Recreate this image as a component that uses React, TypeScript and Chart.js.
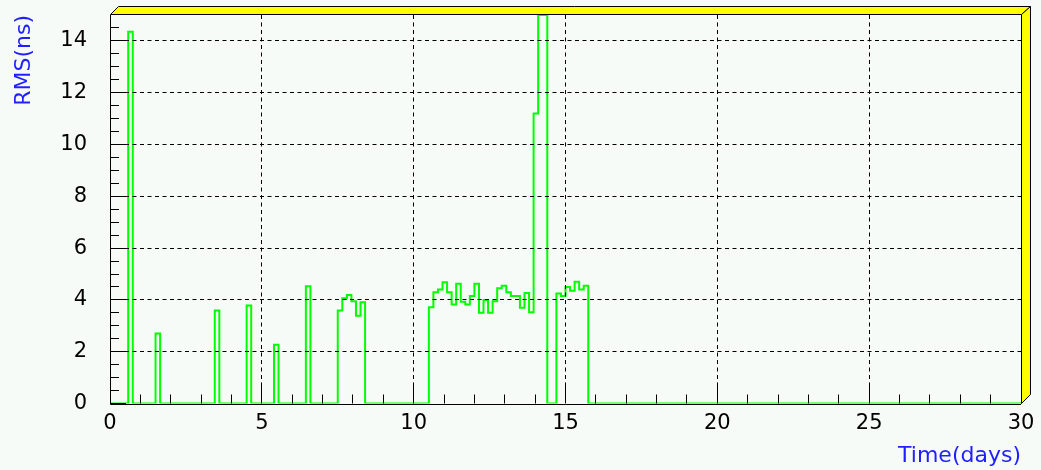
import React, { useEffect, useRef } from 'react';
import { Chart, registerables } from 'chart.js';

Chart.register(...registerables);

// ---- axis ranges & ticks ----
const X_MIN = 0;
const X_MAX = 30;
const Y_MIN = 0;
const Y_MAX = 15;
const xTickValues = [0, 5, 10, 15, 20, 25, 30];
const yTickValues = [0, 2, 4, 6, 8, 10, 12, 14];
const X_MINOR_STEP = 1;
const Y_MINOR_STEP = 0.5;

// ---- histogram data (bin width in days) ----
const BIN_WIDTH = 0.15;

// isolated single-bin spikes
const spikeStarts = [0.6, 1.5, 3.45, 4.5, 5.4, 6.45];
const spikeValues = [14.35, 2.7, 3.59, 3.78, 2.27, 4.53];

// runs of consecutive bins
const runAStart = 7.5;
const runAValues = [3.59, 4.06, 4.19, 3.95, 3.39, 3.91];

const runBStart = 10.5;
const runBValues = [
  3.72, 4.3, 4.4, 4.68, 4.3, 3.82, 4.62, 3.93, 3.82, 4.15, 4.62, 3.5, 4.0,
  3.5, 3.95, 4.45, 4.55, 4.3, 4.15, 4.15, 3.7, 4.27, 3.52, 11.2, 15, 15,
];

const runCStart = 14.7;
const runCValues = [4.25, 4.15, 4.5, 4.35, 4.7, 4.4, 4.55];

const X_TITLE = 'Time(days)';
const Y_TITLE = 'RMS(ns)';

const BG = '#f7fbf7';
const LINE_GREEN = '#00ff00';
const TITLE_BLUE = '#1f1fff';
const FRAME_YELLOW = '#ffff00';
const FONT = 'DejaVu Sans';

function buildBins(): number[] {
  const n = Math.round((X_MAX - X_MIN) / BIN_WIDTH);
  const bins = new Array(n).fill(0);
  const put = (start: number, vals: number[]) => {
    const i0 = Math.round((start - X_MIN) / BIN_WIDTH);
    vals.forEach((v, k) => {
      bins[i0 + k] = v;
    });
  };
  spikeStarts.forEach((s, i) => put(s, [spikeValues[i]]));
  put(runAStart, runAValues);
  put(runBStart, runBValues);
  put(runCStart, runCValues);
  return bins;
}

function buildOutline(bins: number[]) {
  const pts: { x: number; y: number }[] = [];
  bins.forEach((v, i) => {
    pts.push({ x: X_MIN + i * BIN_WIDTH, y: v });
    pts.push({ x: X_MIN + (i + 1) * BIN_WIDTH, y: v });
  });
  return pts;
}

const align = (p: number) => Math.round(p - 0.5) + 0.5;

const rootFramePlugin = {
  id: 'rootFrame',
  beforeDatasetsDraw(chart: any) {
    const { ctx, chartArea: a } = chart;
    ctx.save();
    ctx.strokeStyle = '#000';
    ctx.lineWidth = 1;
    ctx.beginPath();
    ctx.moveTo(align(a.left), a.top);
    ctx.lineTo(align(a.left), align(a.bottom) + 1);
    ctx.lineTo(a.right, align(a.bottom) + 1);
    ctx.stroke();
    ctx.restore();
  },
  afterDraw(chart: any) {
    const { ctx, chartArea: a, scales } = chart;
    const xs = scales.x;
    const ys = scales.y;
    ctx.save();
    ctx.strokeStyle = '#000';
    ctx.lineWidth = 1;
    // x ticks (inside frame, upward)
    for (let v = X_MIN; v <= X_MAX + 1e-9; v += X_MINOR_STEP) {
      const major = xTickValues.includes(v);
      const px = align(xs.getPixelForValue(v));
      const len = major ? 18 : 9;
      ctx.beginPath();
      ctx.moveTo(px, a.bottom);
      ctx.lineTo(px, a.bottom - len);
      ctx.stroke();
    }
    // y ticks (inside frame, rightward)
    for (let v = Y_MIN; v <= Y_MAX - 0.25; v += Y_MINOR_STEP) {
      const major = yTickValues.includes(v);
      const py = align(ys.getPixelForValue(v));
      const len = major ? 16 : 9;
      ctx.beginPath();
      ctx.moveTo(a.left, py);
      ctx.lineTo(a.left + len, py);
      ctx.stroke();
    }
    // 3D frame (top and right bands)
    const L = align(a.left);
    const T = align(a.top) - 1;
    const R = align(a.right);
    const B = align(a.bottom);
    const dx = 9;
    const dy = 8;
    ctx.fillStyle = FRAME_YELLOW;
    ctx.beginPath();
    ctx.moveTo(L, T);
    ctx.lineTo(L + dx - 1, T - dy);
    ctx.lineTo(R + dx, T - dy);
    ctx.lineTo(R, T);
    ctx.closePath();
    ctx.fill();
    ctx.stroke();
    ctx.beginPath();
    ctx.moveTo(R, T);
    ctx.lineTo(R + dx, T - dy);
    ctx.lineTo(R + dx, B - dy - 1);
    ctx.lineTo(R, B);
    ctx.closePath();
    ctx.fill();
    ctx.stroke();
    ctx.restore();
  },
};

export default function App() {
  const canvasRef = useRef<HTMLCanvasElement | null>(null);

  useEffect(() => {
    const canvas = canvasRef.current;
    if (!canvas) return;
    const bins = buildBins();
    const outline = buildOutline(bins);

    const chart = new Chart(canvas, {
      type: 'line',
      data: {
        datasets: [
          {
            data: outline,
            borderColor: LINE_GREEN,
            borderWidth: 2,
            pointRadius: 0,
            pointHoverRadius: 0,
            tension: 0,
            fill: false,
            borderJoinStyle: 'miter',
            borderCapStyle: 'butt',
          },
        ],
      },
      options: {
        animation: false,
        responsive: false,
        devicePixelRatio: 1,
        events: [],
        layout: { padding: { top: 15, right: 20, left: 0, bottom: 0 }, autoPadding: false },
        plugins: {
          legend: { display: false },
          tooltip: { enabled: false },
          title: { display: false },
        },
        scales: {
          x: {
            type: 'linear',
            min: X_MIN,
            max: X_MAX,
            afterBuildTicks: (scale: any) => {
              scale.ticks = xTickValues.map((v) => ({ value: v }));
            },
            afterFit: (scale: any) => {
              scale.height = 66.5;
              scale.paddingLeft = 0;
              scale.paddingRight = 0;
            },
            grid: {
              z: 1,
              drawTicks: false,
              lineWidth: 1,
              color: (ctx: any) =>
                ctx.tick && (ctx.tick.value === X_MIN || ctx.tick.value === X_MAX)
                  ? 'rgba(0,0,0,0)'
                  : '#000',
            },
            border: { display: false, dash: [4, 3.5] },
            ticks: {
              color: '#000',
              padding: 7,
              maxRotation: 0,
              autoSkip: false,
              font: { family: FONT, size: 21 },
              callback: (v: any) => String(v),
            },
            title: {
              display: true,
              text: X_TITLE,
              align: 'end',
              color: TITLE_BLUE,
              font: { family: FONT, size: 22 },
              padding: { top: 0, bottom: 1 },
            },
          },
          y: {
            type: 'linear',
            min: Y_MIN,
            max: Y_MAX,
            afterBuildTicks: (scale: any) => {
              scale.ticks = yTickValues.map((v) => ({ value: v }));
            },
            afterFit: (scale: any) => {
              scale.width = 110;
              scale.paddingTop = 0;
              scale.paddingBottom = 0;
            },
            grid: {
              z: 1,
              drawTicks: false,
              lineWidth: 1,
              color: (ctx: any) =>
                ctx.tick && ctx.tick.value === Y_MIN ? 'rgba(0,0,0,0)' : '#000',
            },
            border: { display: false, dash: [4, 3.5] },
            ticks: {
              color: '#000',
              padding: 23,
              autoSkip: false,
              font: { family: FONT, size: 21 },
              callback: (v: any) => String(v),
            },
            title: {
              display: true,
              text: Y_TITLE,
              align: 'end',
              color: TITLE_BLUE,
              font: { family: FONT, size: 22 },
              padding: { top: 11, bottom: 0 },
            },
          },
        },
      },
      plugins: [rootFramePlugin],
    } as any);

    return () => {
      chart.destroy();
    };
  }, []);

  return (
    <div
      style={{
        position: 'fixed',
        left: 0,
        top: 0,
        width: 1041,
        height: 470,
        background: BG,
        overflow: 'hidden',
      }}
    >
      <canvas ref={canvasRef} width={1041} height={470} style={{ display: 'block', width: 1041, height: 470 }} />
    </div>
  );
}
